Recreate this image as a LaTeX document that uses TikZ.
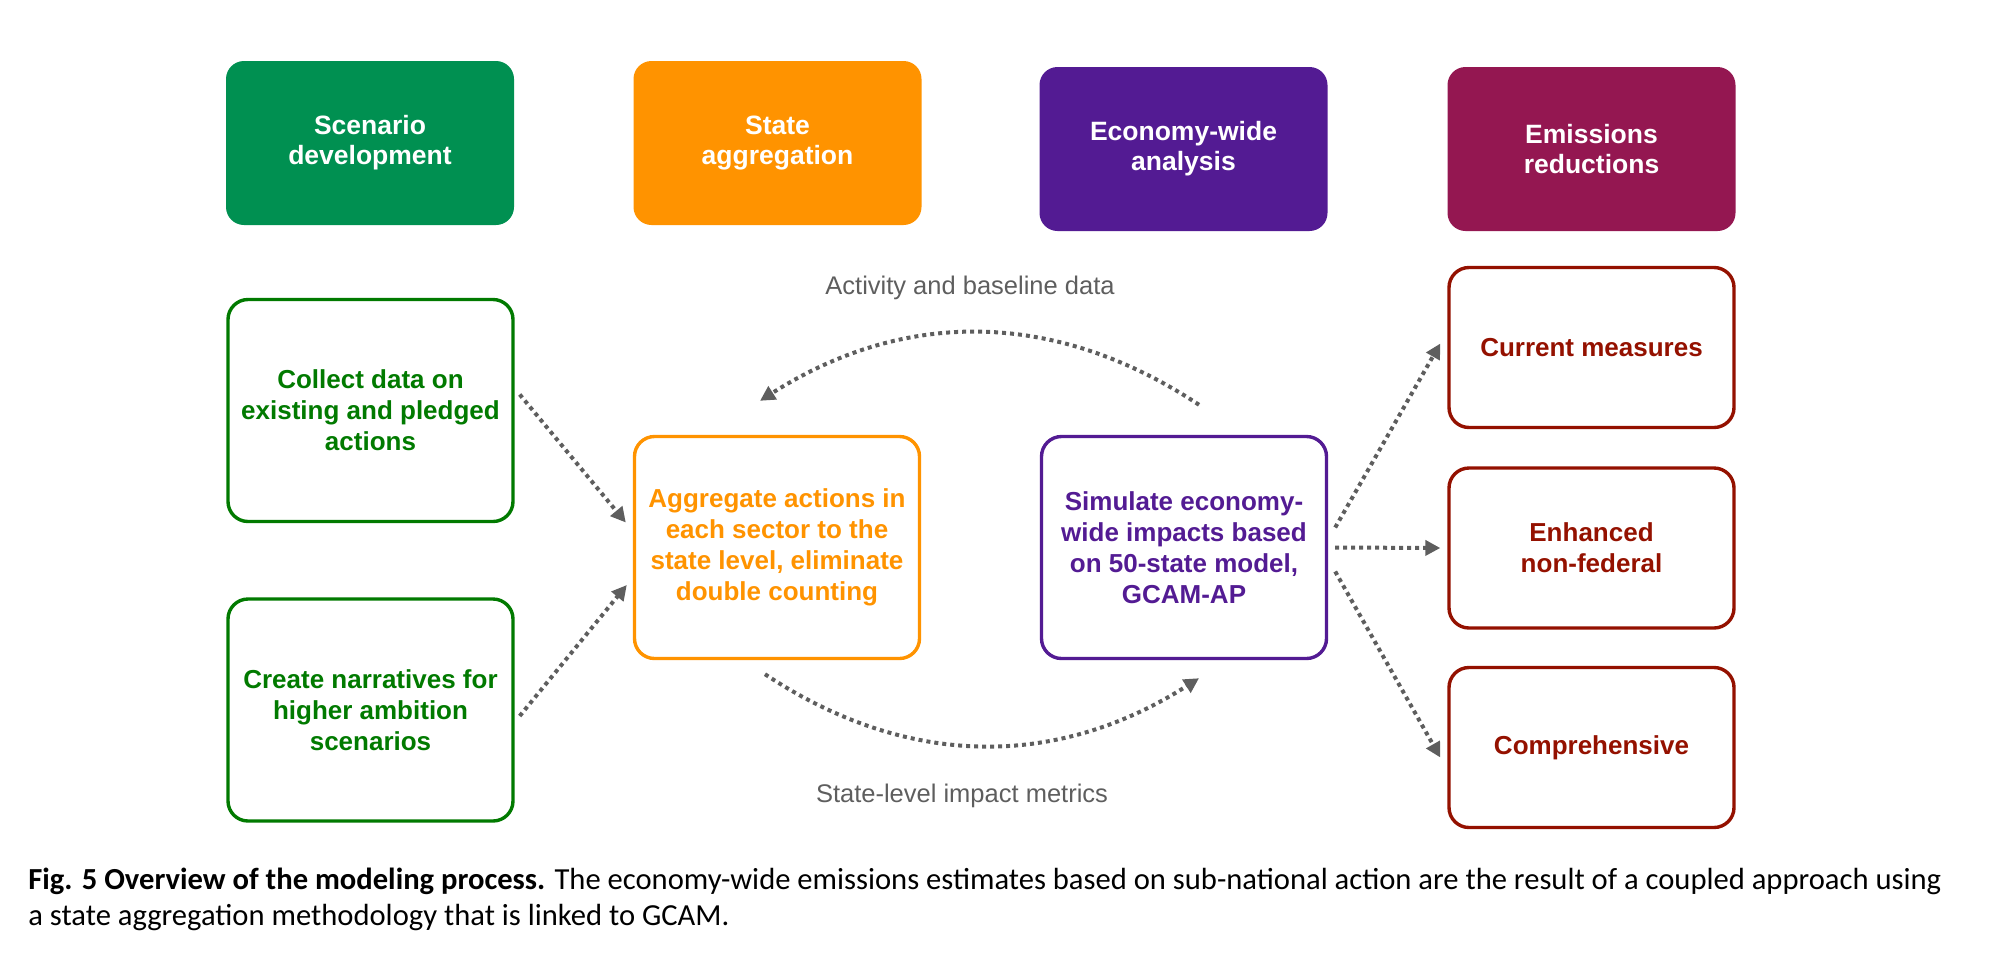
\documentclass[tikz,border=0pt]{standalone}
\usepackage{fontspec}
\setmainfont{Liberation Sans}
\newfontfamily\capfont{Carlito}
\usetikzlibrary{arrows.meta,calc}

\definecolor{moss}{HTML}{009051}
\definecolor{tangerine}{HTML}{FF9300}
\definecolor{grape}{HTML}{531B93}
\definecolor{maroon}{HTML}{941751}
\definecolor{clover}{HTML}{017A00}
\definecolor{cayenne}{HTML}{941100}
\definecolor{iron}{HTML}{5E5E5E}

\tikzset{
    head/.style={fill=#1, rounded corners=9pt, minimum width=144pt, minimum height=82pt,
        inner sep=0pt, align=center, text=white, font=\fontsize{13.25}{15}\selectfont\bfseries},
    task/.style={draw=#1, line width=1.7pt, rounded corners=10pt, minimum width=142.5pt,
        minimum height=111pt, inner sep=0pt, align=center, text=#1,
        font=\fontsize{13}{15.5}\selectfont\bfseries},
    flow/.style={draw=iron, line width=2pt, dash pattern=on 2pt off 2pt,
        -{Triangle[length=7.5pt,width=7.5pt]}},
    flowlbl/.style={text=iron, font=\fontsize{12.75}{15}\selectfont}
}

\begin{document}
\begin{tikzpicture}[x=0.5pt,y=-0.5pt]
                \useasboundingbox (0,0) rectangle (2007,954);
                \node [head=moss] (hscen) at (370,143) {Scenario\\development};
                \node [head=tangerine] (hagg) at (777.5,143) {State\\aggregation};
                \node [head=grape] (hecon) at (1183.5,149) {Economy-wide\\analysis};
                \node [head=maroon] (hemis) at (1591.5,149) {Emissions\\reductions};

                \node [task=clover] (collect) at (370.5,410.5) {Collect data on\\existing and pledged\\actions};
                \node [task=clover] (narr) at (370.5,710) {Create narratives for\\higher ambition\\scenarios};
                \node [task=tangerine] (agg) at (777,547.5) {Aggregate actions in\\each sector to the\\state level, eliminate\\double counting};
                \node [task=grape] (sim) at (1184,547.5) {Simulate economy-\\wide impacts based\\on 50-state model,\\GCAM-AP};
                \node [task=cayenne, minimum height=80pt] (curr) at (1591.5,347.5) {Current measures};
                \node [task=cayenne, minimum height=80pt] (enh) at (1591.5,548) {Enhanced\\non-federal};
                \node [task=cayenne, minimum height=80pt] (comp) at (1591.5,747.5) {Comprehensive};

                \node [flowlbl] (actlbl) at (970,288) {Activity and baseline data};
                \node [flowlbl] (implbl) at (962,796) {State-level impact metrics};

                \coordinate (topA) at ($(sim.north)+(15,-30)$);
                \coordinate (topB) at ($(agg.north)+(-17,-34)$);
                \coordinate (botA) at ($(agg.south)+(-12,14)$);
                \coordinate (botB) at ($(sim.south)+(15,18)$);

                \draw [flow] ($(collect.east)+(5,-16)$) -- ($(agg.west)+(-7,-25)$);
                \draw [flow] ($(narr.east)+(5,6)$) -- ($(agg.west)+(-6,37.5)$);
                \draw [flow] (topA) to [bend right=33] (topB);
                \draw [flow] (botA) to [bend right=33] (botB);
                \draw [flow] ($(sim.east)+(7,-20)$) -- ($(curr.west)+(-7,-4)$);
                \draw [flow] ($(sim.east)+(7,0)$) -- ($(enh.west)+(-7,0)$);
                \draw [flow] ($(sim.east)+(7,24)$) -- ($(comp.west)+(-7,10)$);

                \node [anchor=base west, inner sep=0pt, font=\capfont\fontsize{15.3}{18}\selectfont] (cap1) at (28,889)
                    {\textbf{Fig. 5 Overview of the modeling process.} The economy-wide emissions estimates based on sub-national action are the result of a coupled approach using};
                \node [anchor=base west, inner sep=0pt, font=\capfont\fontsize{15.3}{18}\selectfont] (cap2) at (28,925)
                    {a state aggregation methodology that is linked to GCAM.};
            \end{tikzpicture}
\end{document}
